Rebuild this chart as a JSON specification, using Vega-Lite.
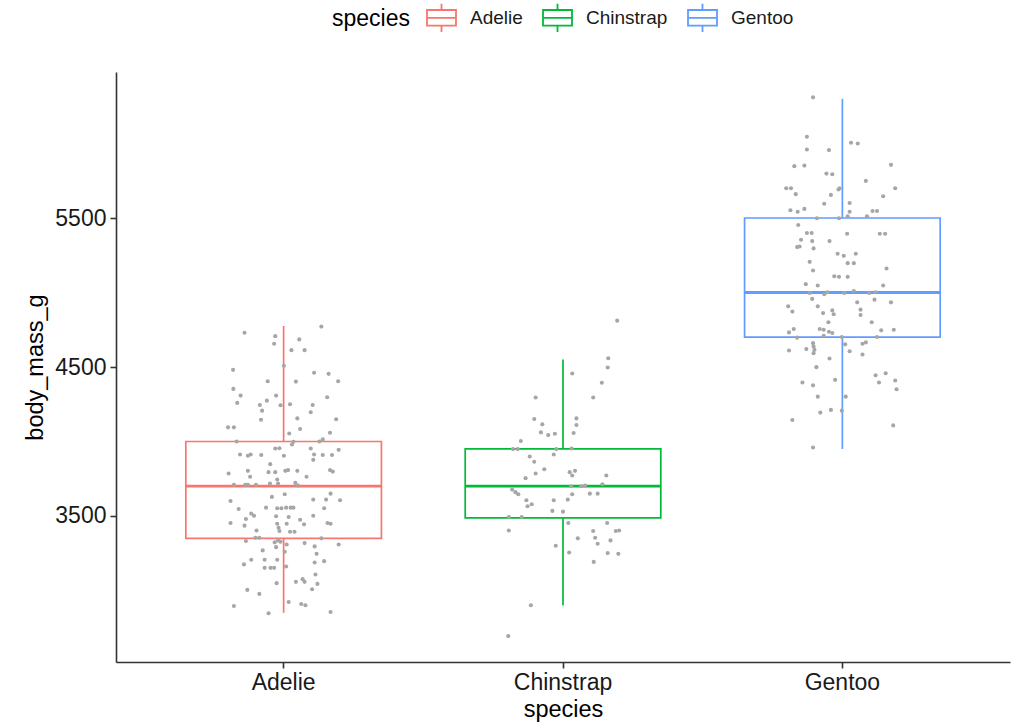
{
  "$schema": "https://vega.github.io/schema/vega-lite/v6.json",
  "width": 894,
  "height": 590,
  "autosize": {"type": "none"},
  "padding": {"left": 116, "top": 72, "right": 4, "bottom": 61},
  "background": "white",
  "config": {
    "font": "Liberation Sans",
    "view": {"stroke": null},
    "axis": {
      "domainColor": "#333333", "domainWidth": 1.6,
      "tickColor": "#333333", "tickWidth": 1.6, "tickSize": 6,
      "labelFontSize": 23, "labelColor": "#1a1a1a",
      "titleFontSize": 23.5, "titleFontWeight": "normal", "titleColor": "#000000",
      "grid": false
    }
  },
  "datasets": {
    "summary": [
      {"species": "Adelie", "lo": 2850, "q1": 3350, "med": 3700, "q3": 4000, "hi": 4775},
      {"species": "Chinstrap", "lo": 2900, "q1": 3487.5, "med": 3700, "q3": 3950, "hi": 4550},
      {"species": "Gentoo", "lo": 3950, "q1": 4700, "med": 5000, "q3": 5500, "hi": 6300}
    ],
    "points": [
      {"species":"Adelie","body_mass_g":4730,"jitter":-0.140},
      {"species":"Adelie","body_mass_g":4707,"jitter":-0.030},
      {"species":"Adelie","body_mass_g":4656,"jitter":-0.034},
      {"species":"Adelie","body_mass_g":4685,"jitter":0.056},
      {"species":"Adelie","body_mass_g":4613,"jitter":0.028},
      {"species":"Adelie","body_mass_g":4613,"jitter":0.075},
      {"species":"Adelie","body_mass_g":4771,"jitter":0.135},
      {"species":"Adelie","body_mass_g":4508,"jitter":0.001},
      {"species":"Adelie","body_mass_g":4481,"jitter":-0.181},
      {"species":"Adelie","body_mass_g":4404,"jitter":-0.057},
      {"species":"Adelie","body_mass_g":4402,"jitter":0.044},
      {"species":"Adelie","body_mass_g":4461,"jitter":0.109},
      {"species":"Adelie","body_mass_g":4454,"jitter":0.161},
      {"species":"Adelie","body_mass_g":4404,"jitter":0.195},
      {"species":"Adelie","body_mass_g":4353,"jitter":-0.180},
      {"species":"Adelie","body_mass_g":4308,"jitter":-0.154},
      {"species":"Adelie","body_mass_g":4259,"jitter":-0.166},
      {"species":"Adelie","body_mass_g":4308,"jitter":-0.027},
      {"species":"Adelie","body_mass_g":4274,"jitter":-0.060},
      {"species":"Adelie","body_mass_g":4245,"jitter":-0.085},
      {"species":"Adelie","body_mass_g":4207,"jitter":-0.077},
      {"species":"Adelie","body_mass_g":4243,"jitter":-0.011},
      {"species":"Adelie","body_mass_g":4250,"jitter":0.023},
      {"species":"Adelie","body_mass_g":4245,"jitter":0.104},
      {"species":"Adelie","body_mass_g":4196,"jitter":0.097},
      {"species":"Adelie","body_mass_g":4297,"jitter":0.156},
      {"species":"Adelie","body_mass_g":4146,"jitter":-0.081},
      {"species":"Adelie","body_mass_g":4155,"jitter":0.049},
      {"species":"Adelie","body_mass_g":4149,"jitter":0.188},
      {"species":"Adelie","body_mass_g":4095,"jitter":-0.199},
      {"species":"Adelie","body_mass_g":4095,"jitter":-0.178},
      {"species":"Adelie","body_mass_g":4084,"jitter":0.059},
      {"species":"Adelie","body_mass_g":4054,"jitter":0.020},
      {"species":"Adelie","body_mass_g":4059,"jitter":0.166},
      {"species":"Adelie","body_mass_g":4000,"jitter":-0.168},
      {"species":"Adelie","body_mass_g":3998,"jitter":0.035},
      {"species":"Adelie","body_mass_g":4000,"jitter":0.128},
      {"species":"Adelie","body_mass_g":4014,"jitter":0.140},
      {"species":"Adelie","body_mass_g":3953,"jitter":-0.030},
      {"species":"Adelie","body_mass_g":3955,"jitter":-0.015},
      {"species":"Adelie","body_mass_g":3980,"jitter":0.030},
      {"species":"Adelie","body_mass_g":3953,"jitter":0.097},
      {"species":"Adelie","body_mass_g":3913,"jitter":-0.156},
      {"species":"Adelie","body_mass_g":3904,"jitter":-0.128},
      {"species":"Adelie","body_mass_g":3913,"jitter":-0.118},
      {"species":"Adelie","body_mass_g":3909,"jitter":-0.080},
      {"species":"Adelie","body_mass_g":3904,"jitter":0.001},
      {"species":"Adelie","body_mass_g":3913,"jitter":0.109},
      {"species":"Adelie","body_mass_g":3909,"jitter":0.140},
      {"species":"Adelie","body_mass_g":3909,"jitter":0.173},
      {"species":"Adelie","body_mass_g":3944,"jitter":0.197},
      {"species":"Adelie","body_mass_g":3877,"jitter":0.106},
      {"species":"Adelie","body_mass_g":3848,"jitter":-0.048},
      {"species":"Adelie","body_mass_g":3785,"jitter":-0.197},
      {"species":"Adelie","body_mass_g":3803,"jitter":-0.128},
      {"species":"Adelie","body_mass_g":3763,"jitter":-0.120},
      {"species":"Adelie","body_mass_g":3794,"jitter":-0.054},
      {"species":"Adelie","body_mass_g":3794,"jitter":-0.030},
      {"species":"Adelie","body_mass_g":3803,"jitter":0.006},
      {"species":"Adelie","body_mass_g":3808,"jitter":0.016},
      {"species":"Adelie","body_mass_g":3803,"jitter":0.049},
      {"species":"Adelie","body_mass_g":3763,"jitter":0.082},
      {"species":"Adelie","body_mass_g":3808,"jitter":0.166},
      {"species":"Adelie","body_mass_g":3798,"jitter":0.176},
      {"species":"Adelie","body_mass_g":3709,"jitter":-0.178},
      {"species":"Adelie","body_mass_g":3709,"jitter":-0.137},
      {"species":"Adelie","body_mass_g":3709,"jitter":-0.128},
      {"species":"Adelie","body_mass_g":3709,"jitter":-0.099},
      {"species":"Adelie","body_mass_g":3718,"jitter":-0.049},
      {"species":"Adelie","body_mass_g":3718,"jitter":-0.020},
      {"species":"Adelie","body_mass_g":3745,"jitter":-0.023},
      {"species":"Adelie","body_mass_g":3722,"jitter":0.042},
      {"species":"Adelie","body_mass_g":3704,"jitter":0.052},
      {"species":"Adelie","body_mass_g":3628,"jitter":-0.042},
      {"species":"Adelie","body_mass_g":3646,"jitter":0.004},
      {"species":"Adelie","body_mass_g":3601,"jitter":-0.190},
      {"species":"Adelie","body_mass_g":3610,"jitter":0.106},
      {"species":"Adelie","body_mass_g":3610,"jitter":0.152},
      {"species":"Adelie","body_mass_g":3650,"jitter":0.168},
      {"species":"Adelie","body_mass_g":3606,"jitter":0.202},
      {"species":"Adelie","body_mass_g":3556,"jitter":-0.063},
      {"species":"Adelie","body_mass_g":3547,"jitter":-0.161},
      {"species":"Adelie","body_mass_g":3552,"jitter":-0.023},
      {"species":"Adelie","body_mass_g":3552,"jitter":-0.008},
      {"species":"Adelie","body_mass_g":3556,"jitter":0.009},
      {"species":"Adelie","body_mass_g":3556,"jitter":0.025},
      {"species":"Adelie","body_mass_g":3556,"jitter":0.035},
      {"species":"Adelie","body_mass_g":3552,"jitter":0.145},
      {"species":"Adelie","body_mass_g":3516,"jitter":-0.116},
      {"species":"Adelie","body_mass_g":3502,"jitter":-0.106},
      {"species":"Adelie","body_mass_g":3480,"jitter":-0.135},
      {"species":"Adelie","body_mass_g":3498,"jitter":-0.027},
      {"species":"Adelie","body_mass_g":3493,"jitter":0.018},
      {"species":"Adelie","body_mass_g":3475,"jitter":0.059},
      {"species":"Adelie","body_mass_g":3502,"jitter":0.106},
      {"species":"Adelie","body_mass_g":3453,"jitter":-0.190},
      {"species":"Adelie","body_mass_g":3435,"jitter":-0.140},
      {"species":"Adelie","body_mass_g":3448,"jitter":-0.023},
      {"species":"Adelie","body_mass_g":3448,"jitter":0.011},
      {"species":"Adelie","body_mass_g":3444,"jitter":0.073},
      {"species":"Adelie","body_mass_g":3453,"jitter":0.157},
      {"species":"Adelie","body_mass_g":3448,"jitter":0.168},
      {"species":"Adelie","body_mass_g":3403,"jitter":-0.097},
      {"species":"Adelie","body_mass_g":3421,"jitter":-0.018},
      {"species":"Adelie","body_mass_g":3399,"jitter":-0.015},
      {"species":"Adelie","body_mass_g":3394,"jitter":0.023},
      {"species":"Adelie","body_mass_g":3394,"jitter":0.039},
      {"species":"Adelie","body_mass_g":3354,"jitter":-0.101},
      {"species":"Adelie","body_mass_g":3354,"jitter":-0.087},
      {"species":"Adelie","body_mass_g":3350,"jitter":0.135},
      {"species":"Adelie","body_mass_g":3332,"jitter":-0.135},
      {"species":"Adelie","body_mass_g":3323,"jitter":-0.032},
      {"species":"Adelie","body_mass_g":3336,"jitter":-0.020},
      {"species":"Adelie","body_mass_g":3327,"jitter":-0.011},
      {"species":"Adelie","body_mass_g":3309,"jitter":0.011},
      {"species":"Adelie","body_mass_g":3318,"jitter":0.075},
      {"species":"Adelie","body_mass_g":3296,"jitter":0.111},
      {"species":"Adelie","body_mass_g":3309,"jitter":0.197},
      {"species":"Adelie","body_mass_g":3269,"jitter":-0.075},
      {"species":"Adelie","body_mass_g":3291,"jitter":-0.027},
      {"species":"Adelie","body_mass_g":3260,"jitter":0.004},
      {"species":"Adelie","body_mass_g":3246,"jitter":0.118},
      {"species":"Adelie","body_mass_g":3206,"jitter":-0.116},
      {"species":"Adelie","body_mass_g":3206,"jitter":-0.068},
      {"species":"Adelie","body_mass_g":3206,"jitter":-0.023},
      {"species":"Adelie","body_mass_g":3175,"jitter":-0.142},
      {"species":"Adelie","body_mass_g":3152,"jitter":-0.068},
      {"species":"Adelie","body_mass_g":3152,"jitter":-0.047},
      {"species":"Adelie","body_mass_g":3152,"jitter":-0.034},
      {"species":"Adelie","body_mass_g":3161,"jitter":0.009},
      {"species":"Adelie","body_mass_g":3188,"jitter":0.111},
      {"species":"Adelie","body_mass_g":3197,"jitter":0.145},
      {"species":"Adelie","body_mass_g":3107,"jitter":0.114},
      {"species":"Adelie","body_mass_g":3058,"jitter":0.044},
      {"species":"Adelie","body_mass_g":3076,"jitter":0.068},
      {"species":"Adelie","body_mass_g":3058,"jitter":0.075},
      {"species":"Adelie","body_mass_g":3044,"jitter":0.121},
      {"species":"Adelie","body_mass_g":3049,"jitter":-0.025},
      {"species":"Adelie","body_mass_g":3008,"jitter":0.102},
      {"species":"Adelie","body_mass_g":3004,"jitter":-0.130},
      {"species":"Adelie","body_mass_g":2977,"jitter":-0.087},
      {"species":"Adelie","body_mass_g":2896,"jitter":-0.178},
      {"species":"Adelie","body_mass_g":2923,"jitter":0.018},
      {"species":"Adelie","body_mass_g":2909,"jitter":0.063},
      {"species":"Adelie","body_mass_g":2901,"jitter":0.078},
      {"species":"Adelie","body_mass_g":2847,"jitter":-0.054},
      {"species":"Adelie","body_mass_g":2856,"jitter":0.168},
      {"species":"Chinstrap","body_mass_g":4811,"jitter":0.194},
      {"species":"Chinstrap","body_mass_g":4559,"jitter":0.162},
      {"species":"Chinstrap","body_mass_g":4497,"jitter":0.160},
      {"species":"Chinstrap","body_mass_g":4456,"jitter":0.033},
      {"species":"Chinstrap","body_mass_g":4394,"jitter":0.139},
      {"species":"Chinstrap","body_mass_g":4295,"jitter":0.108},
      {"species":"Chinstrap","body_mass_g":4295,"jitter":-0.098},
      {"species":"Chinstrap","body_mass_g":4151,"jitter":-0.103},
      {"species":"Chinstrap","body_mass_g":4115,"jitter":-0.074},
      {"species":"Chinstrap","body_mass_g":4155,"jitter":0.048},
      {"species":"Chinstrap","body_mass_g":4111,"jitter":0.048},
      {"species":"Chinstrap","body_mass_g":4061,"jitter":-0.079},
      {"species":"Chinstrap","body_mass_g":4043,"jitter":-0.053},
      {"species":"Chinstrap","body_mass_g":4052,"jitter":-0.029},
      {"species":"Chinstrap","body_mass_g":4057,"jitter":0.038},
      {"species":"Chinstrap","body_mass_g":4003,"jitter":-0.151},
      {"species":"Chinstrap","body_mass_g":3949,"jitter":-0.179},
      {"species":"Chinstrap","body_mass_g":3949,"jitter":-0.162},
      {"species":"Chinstrap","body_mass_g":3949,"jitter":-0.024},
      {"species":"Chinstrap","body_mass_g":3953,"jitter":0.031},
      {"species":"Chinstrap","body_mass_g":3913,"jitter":-0.033},
      {"species":"Chinstrap","body_mass_g":3899,"jitter":-0.119},
      {"species":"Chinstrap","body_mass_g":3864,"jitter":-0.103},
      {"species":"Chinstrap","body_mass_g":3814,"jitter":-0.067},
      {"species":"Chinstrap","body_mass_g":3754,"jitter":-0.134},
      {"species":"Chinstrap","body_mass_g":3785,"jitter":-0.098},
      {"species":"Chinstrap","body_mass_g":3794,"jitter":0.024},
      {"species":"Chinstrap","body_mass_g":3772,"jitter":0.033},
      {"species":"Chinstrap","body_mass_g":3803,"jitter":0.043},
      {"species":"Chinstrap","body_mass_g":3772,"jitter":0.155},
      {"species":"Chinstrap","body_mass_g":3677,"jitter":-0.182},
      {"species":"Chinstrap","body_mass_g":3660,"jitter":-0.170},
      {"species":"Chinstrap","body_mass_g":3646,"jitter":-0.160},
      {"species":"Chinstrap","body_mass_g":3700,"jitter":0.029},
      {"species":"Chinstrap","body_mass_g":3700,"jitter":0.065},
      {"species":"Chinstrap","body_mass_g":3704,"jitter":0.079},
      {"species":"Chinstrap","body_mass_g":3713,"jitter":0.141},
      {"species":"Chinstrap","body_mass_g":3646,"jitter":0.033},
      {"species":"Chinstrap","body_mass_g":3650,"jitter":0.096},
      {"species":"Chinstrap","body_mass_g":3650,"jitter":0.124},
      {"species":"Chinstrap","body_mass_g":3606,"jitter":-0.131},
      {"species":"Chinstrap","body_mass_g":3565,"jitter":-0.127},
      {"species":"Chinstrap","body_mass_g":3579,"jitter":-0.112},
      {"species":"Chinstrap","body_mass_g":3606,"jitter":-0.033},
      {"species":"Chinstrap","body_mass_g":3610,"jitter":0.017},
      {"species":"Chinstrap","body_mass_g":3534,"jitter":-0.038},
      {"species":"Chinstrap","body_mass_g":3529,"jitter":0.000},
      {"species":"Chinstrap","body_mass_g":3493,"jitter":-0.194},
      {"species":"Chinstrap","body_mass_g":3493,"jitter":-0.148},
      {"species":"Chinstrap","body_mass_g":3453,"jitter":0.019},
      {"species":"Chinstrap","body_mass_g":3403,"jitter":-0.194},
      {"species":"Chinstrap","body_mass_g":3399,"jitter":0.108},
      {"species":"Chinstrap","body_mass_g":3453,"jitter":0.158},
      {"species":"Chinstrap","body_mass_g":3354,"jitter":0.115},
      {"species":"Chinstrap","body_mass_g":3399,"jitter":0.189},
      {"species":"Chinstrap","body_mass_g":3403,"jitter":0.201},
      {"species":"Chinstrap","body_mass_g":3350,"jitter":0.053},
      {"species":"Chinstrap","body_mass_g":3314,"jitter":0.124},
      {"species":"Chinstrap","body_mass_g":3336,"jitter":0.170},
      {"species":"Chinstrap","body_mass_g":3300,"jitter":-0.026},
      {"species":"Chinstrap","body_mass_g":3255,"jitter":0.022},
      {"species":"Chinstrap","body_mass_g":3251,"jitter":0.160},
      {"species":"Chinstrap","body_mass_g":3246,"jitter":0.198},
      {"species":"Chinstrap","body_mass_g":3192,"jitter":0.110},
      {"species":"Chinstrap","body_mass_g":2901,"jitter":-0.115},
      {"species":"Chinstrap","body_mass_g":2694,"jitter":-0.196},
      {"species":"Gentoo","body_mass_g":6310,"jitter":-0.105},
      {"species":"Gentoo","body_mass_g":6045,"jitter":-0.127},
      {"species":"Gentoo","body_mass_g":6005,"jitter":0.031},
      {"species":"Gentoo","body_mass_g":6000,"jitter":0.055},
      {"species":"Gentoo","body_mass_g":5960,"jitter":-0.127},
      {"species":"Gentoo","body_mass_g":5956,"jitter":-0.048},
      {"species":"Gentoo","body_mass_g":5848,"jitter":-0.172},
      {"species":"Gentoo","body_mass_g":5852,"jitter":-0.136},
      {"species":"Gentoo","body_mass_g":5857,"jitter":0.174},
      {"species":"Gentoo","body_mass_g":5798,"jitter":-0.057},
      {"species":"Gentoo","body_mass_g":5794,"jitter":-0.036},
      {"species":"Gentoo","body_mass_g":5749,"jitter":0.084},
      {"species":"Gentoo","body_mass_g":5700,"jitter":-0.201},
      {"species":"Gentoo","body_mass_g":5700,"jitter":-0.184},
      {"species":"Gentoo","body_mass_g":5660,"jitter":-0.167},
      {"species":"Gentoo","body_mass_g":5700,"jitter":-0.010},
      {"species":"Gentoo","body_mass_g":5691,"jitter":-0.014},
      {"species":"Gentoo","body_mass_g":5700,"jitter":0.189},
      {"species":"Gentoo","body_mass_g":5655,"jitter":-0.041},
      {"species":"Gentoo","body_mass_g":5646,"jitter":0.146},
      {"species":"Gentoo","body_mass_g":5596,"jitter":-0.065},
      {"species":"Gentoo","body_mass_g":5601,"jitter":0.026},
      {"species":"Gentoo","body_mass_g":5552,"jitter":-0.186},
      {"species":"Gentoo","body_mass_g":5542,"jitter":-0.160},
      {"species":"Gentoo","body_mass_g":5561,"jitter":-0.136},
      {"species":"Gentoo","body_mass_g":5542,"jitter":0.026},
      {"species":"Gentoo","body_mass_g":5547,"jitter":0.108},
      {"species":"Gentoo","body_mass_g":5547,"jitter":0.124},
      {"species":"Gentoo","body_mass_g":5498,"jitter":-0.091},
      {"species":"Gentoo","body_mass_g":5498,"jitter":-0.012},
      {"species":"Gentoo","body_mass_g":5511,"jitter":0.019},
      {"species":"Gentoo","body_mass_g":5511,"jitter":0.088},
      {"species":"Gentoo","body_mass_g":5453,"jitter":-0.158},
      {"species":"Gentoo","body_mass_g":5399,"jitter":-0.127},
      {"species":"Gentoo","body_mass_g":5399,"jitter":-0.110},
      {"species":"Gentoo","body_mass_g":5394,"jitter":0.017},
      {"species":"Gentoo","body_mass_g":5394,"jitter":0.134},
      {"species":"Gentoo","body_mass_g":5394,"jitter":0.153},
      {"species":"Gentoo","body_mass_g":5354,"jitter":-0.148},
      {"species":"Gentoo","body_mass_g":5345,"jitter":-0.108},
      {"species":"Gentoo","body_mass_g":5345,"jitter":-0.046},
      {"species":"Gentoo","body_mass_g":5305,"jitter":-0.162},
      {"species":"Gentoo","body_mass_g":5309,"jitter":-0.153},
      {"species":"Gentoo","body_mass_g":5296,"jitter":-0.103},
      {"species":"Gentoo","body_mass_g":5260,"jitter":-0.017},
      {"species":"Gentoo","body_mass_g":5246,"jitter":0.005},
      {"species":"Gentoo","body_mass_g":5260,"jitter":0.048},
      {"species":"Gentoo","body_mass_g":5206,"jitter":-0.117},
      {"species":"Gentoo","body_mass_g":5197,"jitter":0.019},
      {"species":"Gentoo","body_mass_g":5197,"jitter":0.041},
      {"species":"Gentoo","body_mass_g":5148,"jitter":-0.105},
      {"species":"Gentoo","body_mass_g":5161,"jitter":0.158},
      {"species":"Gentoo","body_mass_g":5109,"jitter":-0.029},
      {"species":"Gentoo","body_mass_g":5105,"jitter":-0.012},
      {"species":"Gentoo","body_mass_g":5105,"jitter":0.019},
      {"species":"Gentoo","body_mass_g":5056,"jitter":-0.131},
      {"species":"Gentoo","body_mass_g":5047,"jitter":-0.088},
      {"species":"Gentoo","body_mass_g":5047,"jitter":0.146},
      {"species":"Gentoo","body_mass_g":4997,"jitter":-0.117},
      {"species":"Gentoo","body_mass_g":4988,"jitter":-0.065},
      {"species":"Gentoo","body_mass_g":5002,"jitter":-0.053},
      {"species":"Gentoo","body_mass_g":4997,"jitter":0.007},
      {"species":"Gentoo","body_mass_g":5010,"jitter":0.041},
      {"species":"Gentoo","body_mass_g":4997,"jitter":0.096},
      {"species":"Gentoo","body_mass_g":5002,"jitter":0.119},
      {"species":"Gentoo","body_mass_g":4957,"jitter":-0.108},
      {"species":"Gentoo","body_mass_g":4934,"jitter":0.053},
      {"species":"Gentoo","body_mass_g":4952,"jitter":0.115},
      {"species":"Gentoo","body_mass_g":4934,"jitter":0.174},
      {"species":"Gentoo","body_mass_g":4907,"jitter":-0.194},
      {"species":"Gentoo","body_mass_g":4872,"jitter":-0.179},
      {"species":"Gentoo","body_mass_g":4907,"jitter":-0.088},
      {"species":"Gentoo","body_mass_g":4862,"jitter":-0.069},
      {"species":"Gentoo","body_mass_g":4880,"jitter":-0.036},
      {"species":"Gentoo","body_mass_g":4854,"jitter":-0.031},
      {"species":"Gentoo","body_mass_g":4885,"jitter":0.065},
      {"species":"Gentoo","body_mass_g":4849,"jitter":0.065},
      {"species":"Gentoo","body_mass_g":4800,"jitter":-0.050},
      {"species":"Gentoo","body_mass_g":4800,"jitter":0.105},
      {"species":"Gentoo","body_mass_g":4732,"jitter":-0.191},
      {"species":"Gentoo","body_mass_g":4755,"jitter":-0.174},
      {"species":"Gentoo","body_mass_g":4755,"jitter":-0.081},
      {"species":"Gentoo","body_mass_g":4750,"jitter":-0.067},
      {"species":"Gentoo","body_mass_g":4737,"jitter":-0.048},
      {"species":"Gentoo","body_mass_g":4728,"jitter":-0.036},
      {"species":"Gentoo","body_mass_g":4710,"jitter":-0.067},
      {"species":"Gentoo","body_mass_g":4697,"jitter":-0.162},
      {"species":"Gentoo","body_mass_g":4701,"jitter":-0.002},
      {"species":"Gentoo","body_mass_g":4701,"jitter":0.124},
      {"species":"Gentoo","body_mass_g":4746,"jitter":0.139},
      {"species":"Gentoo","body_mass_g":4750,"jitter":0.184},
      {"species":"Gentoo","body_mass_g":4660,"jitter":-0.105},
      {"species":"Gentoo","body_mass_g":4638,"jitter":-0.103},
      {"species":"Gentoo","body_mass_g":4616,"jitter":-0.100},
      {"species":"Gentoo","body_mass_g":4593,"jitter":-0.103},
      {"species":"Gentoo","body_mass_g":4620,"jitter":-0.129},
      {"species":"Gentoo","body_mass_g":4611,"jitter":-0.191},
      {"species":"Gentoo","body_mass_g":4652,"jitter":0.010},
      {"species":"Gentoo","body_mass_g":4656,"jitter":0.072},
      {"species":"Gentoo","body_mass_g":4665,"jitter":0.084},
      {"species":"Gentoo","body_mass_g":4606,"jitter":0.026},
      {"species":"Gentoo","body_mass_g":4584,"jitter":0.072},
      {"species":"Gentoo","body_mass_g":4557,"jitter":-0.046},
      {"species":"Gentoo","body_mass_g":4499,"jitter":-0.093},
      {"species":"Gentoo","body_mass_g":4445,"jitter":0.119},
      {"species":"Gentoo","body_mass_g":4458,"jitter":0.155},
      {"species":"Gentoo","body_mass_g":4396,"jitter":-0.143},
      {"species":"Gentoo","body_mass_g":4377,"jitter":-0.105},
      {"species":"Gentoo","body_mass_g":4414,"jitter":-0.026},
      {"species":"Gentoo","body_mass_g":4396,"jitter":0.131},
      {"species":"Gentoo","body_mass_g":4409,"jitter":0.189},
      {"species":"Gentoo","body_mass_g":4351,"jitter":0.194},
      {"species":"Gentoo","body_mass_g":4301,"jitter":-0.088},
      {"species":"Gentoo","body_mass_g":4301,"jitter":0.012},
      {"species":"Gentoo","body_mass_g":4194,"jitter":-0.079},
      {"species":"Gentoo","body_mass_g":4212,"jitter":-0.041},
      {"species":"Gentoo","body_mass_g":4207,"jitter":-0.002},
      {"species":"Gentoo","body_mass_g":4144,"jitter":-0.179},
      {"species":"Gentoo","body_mass_g":4108,"jitter":0.182},
      {"species":"Gentoo","body_mass_g":3960,"jitter":-0.105}
    ]
  },
  "encoding": {
    "x": {
      "field": "species", "type": "nominal",
      "scale": {"domain": ["Adelie", "Chinstrap", "Gentoo"], "paddingInner": 0, "paddingOuter": 0.1},
      "axis": {"labelAngle": 0, "title": "species", "labelPadding": 3, "titlePadding": 3}
    }
  },
  "layer": [
    {
      "data": {"name": "summary"},
      "mark": {"type": "rule", "strokeWidth": 1.7},
      "encoding": {
        "y": {"field": "lo", "type": "quantitative", "title": "body_mass_g",
              "scale": {"domain": [2520, 6480], "nice": false, "zero": false},
              "axis": {"values": [3500, 4500, 5500], "format": "d", "labelPadding": 4, "titlePadding": 7}},
        "y2": {"field": "q1"},
        "color": {
          "field": "species", "type": "nominal",
          "scale": {"domain": ["Adelie", "Chinstrap", "Gentoo"], "range": ["#F8766D", "#00BA38", "#619CFF"]},
          "legend": {
            "orient": "none", "legendX": 216, "legendY": -70,
            "direction": "horizontal", "titleOrient": "left", "title": "species",
            "titleFontSize": 23, "titleFontWeight": "normal", "titleColor": "#000000", "titlePadding": 16,
            "labelFontSize": 19, "labelColor": "#1a1a1a", "labelOffset": 13, "columnPadding": 16,
            "symbolType": "M-1,-0.54H1V0.54H-1Z M-1,0H1 M0,-0.54V-0.98 M0,0.54V0.98",
            "symbolSize": 841, "symbolStrokeWidth": 1.8, "symbolOpacity": 1,
            "encode": {"symbols": {"update": {"fill": {"value": "transparent"}, "stroke": {"scale": "color", "field": "value"}}}}
          }
        }
      }
    },
    {
      "data": {"name": "summary"},
      "mark": {"type": "rule", "strokeWidth": 1.7},
      "encoding": {
        "y": {"field": "q3", "type": "quantitative", "title": "body_mass_g"},
        "y2": {"field": "hi"},
        "color": {"field": "species", "type": "nominal"}
      }
    },
    {
      "data": {"name": "summary"},
      "mark": {"type": "bar", "filled": false, "strokeWidth": 1.7, "width": 195.6},
      "encoding": {
        "y": {"field": "q1", "type": "quantitative", "title": "body_mass_g"},
        "y2": {"field": "q3"},
        "color": {"field": "species", "type": "nominal"}
      }
    },
    {
      "data": {"name": "summary"},
      "mark": {"type": "bar", "filled": false, "strokeWidth": 2.8, "width": 195.6},
      "encoding": {
        "y": {"field": "med", "type": "quantitative", "title": "body_mass_g"},
        "y2": {"field": "med"},
        "color": {"field": "species", "type": "nominal"}
      }
    },
    {
      "data": {"name": "points"},
      "mark": {"type": "circle", "size": 17, "opacity": 1},
      "encoding": {
        "xOffset": {"field": "jitter", "type": "quantitative", "scale": {"domain": [-0.5, 0.5]}},
        "y": {"field": "body_mass_g", "type": "quantitative", "title": "body_mass_g"},
        "color": {"value": "#A6A6A6"}
      }
    }
  ]
}
